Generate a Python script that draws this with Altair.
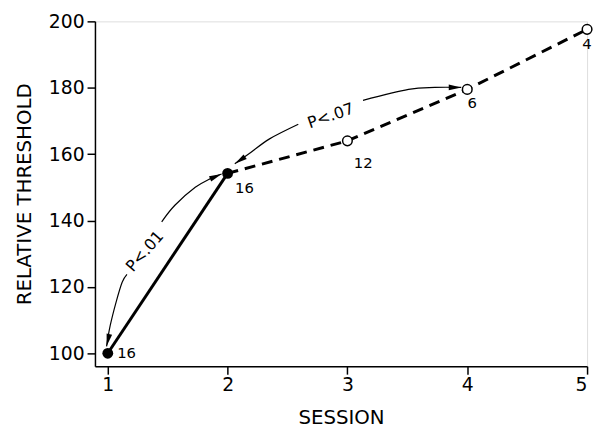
import altair as alt
import pandas as pd

# ---- data ----
session = [1, 2, 3, 4, 5]
threshold = [100, 154.2, 164.0, 179.5, 197.6]
n_label = ["16", "16", "12", "6", "4"]
filled = [True, True, False, False, False]

# curved annotation arrows (data units)
arc1a_x = [0.99, 1.02, 1.07, 1.12, 1.16]
arc1a_y = [102.1, 108.3, 115.5, 121.4, 123.8]
arc1b_x = [1.45, 1.56, 1.73, 1.86, 1.95]
arc1b_y = [139.6, 144.6, 150.0, 152.7, 154.0]
arc2a_x = [2.06, 2.19, 2.35, 2.59]
arc2a_y = [157.1, 160.4, 164.6, 169.0]
arc2b_x = [3.13, 3.51, 3.73, 3.95]
arc2b_y = [176.2, 179.5, 180.1, 180.1]

p_text = ["P<.01", "P<.07"]
p_x = [1.31, 2.86]
p_y = [130.7, 171.5]

FONT = "DejaVu Sans"
xs = alt.Scale(domain=[0.893, 5], nice=False)
ys = alt.Scale(domain=[96.1, 200], nice=False)

pts = pd.DataFrame({"session": session, "threshold": threshold,
                    "n": n_label, "filled": filled})
solid_df = pts[pts.session <= 2]
dash_df = pts[pts.session >= 2]

X = alt.X("session:Q", scale=xs, title="SESSION",
          axis=alt.Axis(values=[1, 2, 3, 4, 5], format="d", grid=False,
                        tickSize=8, tickWidth=1.5, domainWidth=1.5,
                        domainColor="black", tickColor="black",
                        labelFontSize=19, labelFont=FONT, labelColor="black",
                        labelPadding=2, titleFontSize=20, titleFont=FONT,
                        titleFontWeight="normal", titleColor="black",
                        titlePadding=13))
Y = alt.Y("threshold:Q", scale=ys, title="RELATIVE THRESHOLD",
          axis=alt.Axis(values=[100, 120, 140, 160, 180, 200], grid=False,
                        tickSize=8, tickWidth=1.5, domainWidth=1.5,
                        domainColor="black", tickColor="black",
                        labelFontSize=19, labelFont=FONT, labelColor="black",
                        labelPadding=3, titleFontSize=20, titleFont=FONT,
                        titleFontWeight="normal", titleColor="black",
                        titlePadding=14))

solid = alt.Chart(solid_df).mark_line(color="black", strokeWidth=3).encode(x=X, y=Y)
dashed = alt.Chart(dash_df).mark_line(color="black", strokeWidth=3,
                                      strokeDash=[11, 7]).encode(x="session:Q", y="threshold:Q")
dots_f = alt.Chart(pts[pts.filled]).mark_point(filled=True, color="black", size=120,
                                                opacity=1).encode(x="session:Q", y="threshold:Q")
dots_o = alt.Chart(pts[~pts.filled]).mark_point(filled=True, fill="white", stroke="black",
                                                 strokeWidth=1.5, size=95,
                                                 opacity=1).encode(x="session:Q", y="threshold:Q")

# per-point label offsets (layout)
offsets = [(19, 0), (17, 15), (16, 22), (5, 14), (0, 15)]
labels = []
for i, (dx, dy) in enumerate(offsets):
    labels.append(
        alt.Chart(pts.iloc[[i]]).mark_text(font=FONT, fontSize=15, color="black",
                                           align="center", baseline="middle",
                                           dx=dx, dy=dy)
        .encode(x="session:Q", y="threshold:Q", text="n:N"))

arcs = []
for k, (ax, ay) in enumerate([(arc1a_x, arc1a_y), (arc1b_x, arc1b_y),
                              (arc2a_x, arc2a_y), (arc2b_x, arc2b_y)]):
    df = pd.DataFrame({"x": ax, "y": ay, "o": list(range(len(ax)))})
    arcs.append(alt.Chart(df).mark_line(color="black", strokeWidth=1.2,
                                        interpolate="cardinal")
                .encode(x="x:Q", y="y:Q", order="o:Q"))

# arrowheads at arc tips (tip at the data point)
heads = pd.DataFrame({
    "x": [arc1a_x[0], arc1b_x[-1], arc2a_x[0], arc2b_x[-1]],
    "y": [arc1a_y[0], arc1b_y[-1], arc2a_y[0], arc2b_y[-1]],
    "ang": [193, 67, 236, 90],
})
arrow = alt.Chart(heads).mark_point(shape="M0,0L0.45,2L-0.45,2Z", filled=True,
                                    color="black", size=160, opacity=1).encode(
    x="x:Q", y="y:Q", angle=alt.Angle("ang:Q", scale=None))

ptxt = pd.DataFrame({"t": p_text, "x": p_x, "y": p_y})
p1 = alt.Chart(ptxt.iloc[[0]]).mark_text(font=FONT, fontSize=16, angle=311,
                                          color="black").encode(x="x:Q", y="y:Q", text="t:N")
p2 = alt.Chart(ptxt.iloc[[1]]).mark_text(font=FONT, fontSize=16, angle=341,
                                          color="black").encode(x="x:Q", y="y:Q", text="t:N")

chart = alt.layer(solid, dashed, *arcs, arrow, p1, p2, dots_f, dots_o, *labels).properties(
    width=498, height=349,
    autosize=alt.AutoSizeParams(type="none"),
    padding={"left": 88, "top": 11, "right": 6, "bottom": 62},
).configure_view(stroke=None).configure(background="white")

chart.save("out.html", embed_options={"renderer": "svg", "actions": False})
